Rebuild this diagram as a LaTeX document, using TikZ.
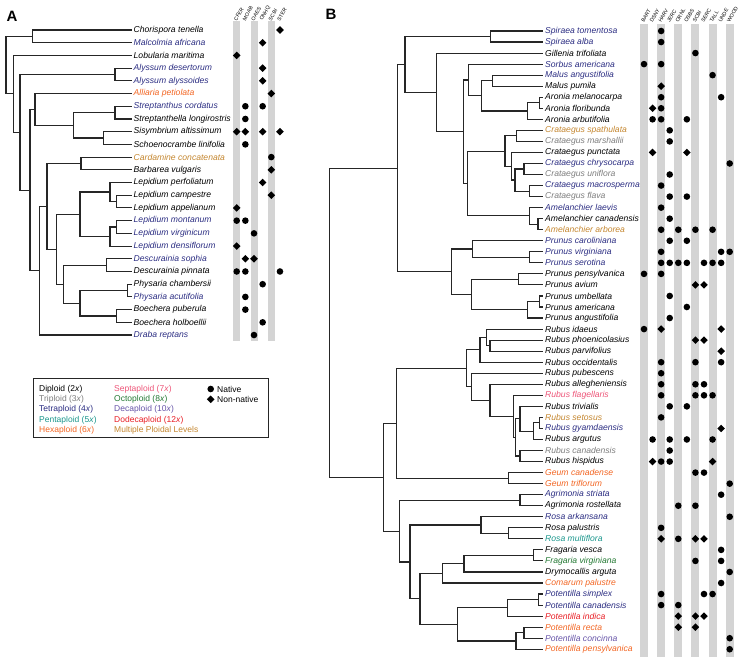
\documentclass[tikz,border=0pt]{standalone}
\usepackage{fontspec}
\setmainfont{Liberation Sans}
\usetikzlibrary{calc}
\definecolor{tri}{RGB}{125,125,125}
\definecolor{tet}{RGB}{43,45,130}
\definecolor{pen}{RGB}{26,150,140}
\definecolor{hex}{RGB}{242,101,34}
\definecolor{sep}{RGB}{237,85,120}
\definecolor{oct}{RGB}{34,120,50}
\definecolor{dec}{RGB}{102,84,168}
\definecolor{dod}{RGB}{232,30,37}
\definecolor{mul}{RGB}{196,134,47}
\definecolor{barcol}{RGB}{212,212,212}
\begin{document}
\begin{tikzpicture}[x=1pt,y=-1pt,
  br/.style={line width=1.1pt, draw=black!85, line cap=square},
  spA/.style={anchor=west, inner sep=0pt, inner xsep=2pt, font=\fontsize{8.6}{10}\selectfont\itshape},
  hd/.style={anchor=west, rotate=60, inner sep=0pt, font=\fontsize{5.2}{6}\selectfont},
  lg/.style={anchor=west, inner sep=0pt, font=\fontsize{8.5}{10}\selectfont},
  pl/.style={inner sep=0pt, font=\fontsize{15}{15}\selectfont\bfseries},
  mk/.style={fill=black}
  ]
\useasboundingbox (0,0) rectangle (743,660);

% ---------- Panel A ----------
\node[pl] (pA) at (12,16) {A};
\foreach \c in {1,3,5} \fill[barcol] ({236.7+(\c-1)*8.65-3.5},21.5) rectangle ++(7,319.5);
\foreach \c/\t in {1/CFER,2/MOAB,3/OAES,4/ONHQ,5/SCBI,6/STER}
  \node[hd] (hA\c) at ({236.7+(\c-1)*8.65-1.5},20.5) {\t};

\foreach \i/\n/\cl in {1/Chorispora tenella/black, 2/Malcolmia africana/tet, 3/Lobularia maritima/black,
  4/Alyssum desertorum/tet, 5/Alyssum alyssoides/tet, 6/Alliaria petiolata/hex,
  7/Streptanthus cordatus/tet, 8/Streptanthella longirostris/black, 9/Sisymbrium altissimum/black,
  10/Schoenocrambe linifolia/black, 11/Cardamine concatenata/mul, 12/Barbarea vulgaris/black,
  13/Lepidium perfoliatum/black, 14/Lepidium campestre/black, 15/Lepidium appelianum/black,
  16/Lepidium montanum/tet, 17/Lepidium virginicum/tet, 18/Lepidium densiflorum/tet,
  19/Descurainia sophia/tet, 20/Descurainia pinnata/black, 21/Physaria chambersii/black,
  22/Physaria acutifolia/tet, 23/Boechera puberula/black, 24/Boechera holboellii/black,
  25/Draba reptans/tet}
  \node[spA, text=\cl] (A\i) at (131.5,{30+(\i-1)*12.71}) {\n};

\coordinate (aR) at (6,65.1);
\coordinate (a12) at (32.3,36.36);
\coordinate (aN1) at (13.3,93.85);
\coordinate (aN2) at (20,132.28);
\coordinate (a45) at (115,74.49);
\coordinate (aN3) at (30,190.07);
\coordinate (a610) at (35,109.44);
\coordinate (a710) at (73.3,125.33);
\coordinate (a78) at (115,112.62);
\coordinate (a910) at (103.3,138.04);
\coordinate (aXD) at (39.3,270.7);
\coordinate (aX) at (47,206.36);
\coordinate (a1112) at (81,163.46);
\coordinate (aY) at (56.7,249.25);
\coordinate (aLep) at (80,214.3);
\coordinate (a1315) at (110,192.05);
\coordinate (a1415) at (116.7,201.59);
\coordinate (a1618) at (110,236.54);
\coordinate (a1617) at (116.7,227.0);
\coordinate (a1924) at (63.3,284.2);
\coordinate (a1920) at (106.7,265.14);
\coordinate (a2124) at (80,303.27);
\coordinate (a2122) at (127.7,290.56);
\coordinate (a2324) at (116.7,315.98);

\foreach \p/\c in {aR/a12, aR/aN1, a12/A1.west, a12/A2.west, aN1/A3.west, aN1/aN2,
  aN2/a45, aN2/aN3, a45/A4.west, a45/A5.west, aN3/a610, aN3/aXD, a610/A6.west, a610/a710,
  a710/a78, a710/a910, a78/A7.west, a78/A8.west, a910/A9.west, a910/A10.west,
  aXD/aX, aXD/A25.west, aX/a1112, aX/aY, a1112/A11.west, a1112/A12.west,
  aY/aLep, aY/a1924, aLep/a1315, aLep/a1618, a1315/A13.west, a1315/a1415,
  a1415/A14.west, a1415/A15.west, a1618/a1617, a1618/A18.west, a1617/A16.west, a1617/A17.west,
  a1924/a1920, a1924/a2124, a1920/A19.west, a1920/A20.west, a2124/a2122, a2124/a2324,
  a2122/A21.west, a2122/A22.west, a2324/A23.west, a2324/A24.west}
  \draw[br] (\p) |- (\c);

\foreach \r/\c in {7/2,7/4,8/2,10/2,11/5,16/1,16/2,17/3,20/1,20/2,20/6,21/4,22/2,23/2,24/4,25/3}
  \fill[mk] ({236.7+(\c-1)*8.65},{30+(\r-1)*12.71}) circle (3.3);
\foreach \r/\c in {1/6,2/4,3/1,4/4,5/4,6/5,9/1,9/2,9/4,9/6,12/5,13/4,14/5,15/1,18/1,19/2,19/3}
  \fill[mk] ({236.7+(\c-1)*8.65},{30+(\r-1)*12.71}) +(0,-3.8) -- +(3.8,0) -- +(0,3.8) -- +(-3.8,0) -- cycle;

% ---------- Legend ----------
\node[draw=black!85, line width=0.8pt, minimum width=235pt, minimum height=59pt, anchor=north west, inner sep=0pt] (legend) at (33,378) {};
\node[lg] (l1) at (39,389) {Diploid (2\textit{x})};
\node[lg, text=tri] (l2) at (39,399.3) {Triploid (3\textit{x})};
\node[lg, text=tet] (l3) at (39,409.6) {Tetraploid (4\textit{x})};
\node[lg, text=pen] (l4) at (39,419.9) {Pentaploid (5\textit{x})};
\node[lg, text=hex] (l5) at (39,430.2) {Hexaploid (6\textit{x})};
\node[lg, text=sep] (l6) at (114,389) {Septaploid (7\textit{x})};
\node[lg, text=oct] (l7) at (114,399.3) {Octoploid (8\textit{x})};
\node[lg, text=dec] (l8) at (114,409.6) {Decaploid (10\textit{x})};
\node[lg, text=dod] (l9) at (114,419.9) {Dodecaploid (12\textit{x})};
\node[lg, text=mul] (l10) at (114,430.2) {Multiple Ploidal Levels};
\fill[mk] (210.7,389) circle (3.3);
\fill[mk] (210.7,399.3) +(0,-3.8) -- +(3.8,0) -- +(0,3.8) -- +(-3.8,0) -- cycle;
\node[lg] (l11) at (217,389) {Native};
\node[lg] (l12) at (217,399.3) {Non-native};

% ---------- Panel B ----------
\node[pl] (pB) at (331,14) {B};
\foreach \c in {1,3,5,7,9,11} \fill[barcol] ({644+(\c-1)*8.57-4},24.5) rectangle ++(8,632.5);
\foreach \c/\t in {1/BART,2/DSNY,3/HARV,4/JERC,5/ORNL,6/OSBS,7/SCBI,8/SERC,9/TALL,10/UNDE,11/WOOD}
  \node[hd] (hB\c) at ({644+(\c-1)*8.57-1.5},22) {\t};

\foreach \i/\n/\cl in {1/Spiraea tomentosa/tet, 2/Spiraea alba/tet, 3/Gillenia trifoliata/black,
  4/Sorbus americana/tet, 5/Malus angustifolia/tet, 6/Malus pumila/black,
  7/Aronia melanocarpa/black, 8/Aronia floribunda/black, 9/Aronia arbutifolia/black,
  10/Crataegus spathulata/mul, 11/Crataegus marshallii/tri, 12/Crataegus punctata/black,
  13/Crataegus chrysocarpa/tet, 14/Crataegus uniflora/tri, 15/Crataegus macrosperma/tet,
  16/Crataegus flava/tri, 17/Amelanchier laevis/tet, 18/Amelanchier canadensis/black,
  19/Amelanchier arborea/mul, 20/Prunus caroliniana/tet, 21/Prunus virginiana/tet,
  22/Prunus serotina/tet, 23/Prunus pensylvanica/black, 24/Prunus avium/black,
  25/Prunus umbellata/black, 26/Prunus americana/black, 27/Prunus angustifolia/black,
  28/Rubus idaeus/black, 29/Rubus phoenicolasius/black, 30/Rubus parvifolius/black,
  31/Rubus occidentalis/black, 32/Rubus pubescens/black, 33/Rubus allegheniensis/black,
  34/Rubus flagellaris/sep, 35/Rubus trivialis/black, 36/Rubus setosus/mul,
  37/Rubus gyamdaensis/tet, 38/Rubus argutus/black, 39/Rubus canadensis/tri,
  40/Rubus hispidus/black, 41/Geum canadense/hex, 42/Geum triflorum/hex,
  43/Agrimonia striata/tet, 44/Agrimonia rostellata/black, 45/Rosa arkansana/tet,
  46/Rosa palustris/black, 47/Rosa multiflora/pen, 48/Fragaria vesca/black,
  49/Fragaria virginiana/oct, 50/Drymocallis arguta/black, 51/Comarum palustre/hex,
  52/Potentilla simplex/tet, 53/Potentilla canadensis/tet, 54/Potentilla indica/dod,
  55/Potentilla recta/hex, 56/Potentilla concinna/dec, 57/Potentilla pensylvanica/hex}
  \node[spA, text=\cl] (B\i) at (543,{31+(\i-1)*11.04}) {\n};

\coordinate (bR) at (329.3,322.64);
\coordinate (b127) at (397.3,168.14);
\coordinate (b119) at (405,64.47);
\coordinate (b12) at (490.7,36.52);
\coordinate (b319) at (436.7,92.41);
\coordinate (b419) at (463.3,131.74);
\coordinate (b49) at (468.3,79.99);
\coordinate (b59) at (481.7,95.86);
\coordinate (b56) at (492.7,80.68);
\coordinate (b789) at (527.3,111.04);
\coordinate (b78) at (539.5,102.76);
\coordinate (bCA) at (467.7,183.49);
\coordinate (b1016) at (505,151.06);
\coordinate (b1011) at (516.7,135.88);
\coordinate (b1216) at (511.7,166.24);
\coordinate (b1316) at (515,180.04);
\coordinate (b1314) at (524,169.0);
\coordinate (b1516) at (529.3,191.08);
\coordinate (b1719) at (529.3,215.92);
\coordinate (b1819) at (538,224.2);
\coordinate (bPr) at (451.7,271.81);
\coordinate (b2022) at (472.7,249.04);
\coordinate (b2122) at (529.3,257.32);
\coordinate (b2327) at (471.7,294.58);
\coordinate (b2324) at (518.3,279.4);
\coordinate (b2527) at (527.3,309.76);
\coordinate (b2526) at (539.5,301.48);
\coordinate (b2857) at (383.3,477.14);
\coordinate (bRG) at (396.7,423.2);
\coordinate (bRu) at (466.7,368.28);
\coordinate (b2831) at (480,349.78);
\coordinate (b2830) at (486.7,337.36);
\coordinate (b2930) at (490,345.64);
\coordinate (b3240) at (471.7,386.78);
\coordinate (b3340) at (490,400.32);
\coordinate (b3440) at (513.3,416.37);
\coordinate (b3540) at (515.5,437.41);
\coordinate (b3538) at (520,418.78);
\coordinate (b3638) at (533.3,431.2);
\coordinate (b3637) at (539.5,422.92);
\coordinate (b3940) at (520,456.04);
\coordinate (bGe) at (508.3,478.12);
\coordinate (b4357) at (399.3,531.08);
\coordinate (bAg) at (520,500.2);
\coordinate (b4557) at (410,561.96);
\coordinate (bRo) at (481,525.04);
\coordinate (b4647) at (508.3,533.32);
\coordinate (b4857) at (420,598.87);
\coordinate (b4851) at (442.3,573.34);
\coordinate (b4850) at (464,563.68);
\coordinate (b4849) at (533.3,555.4);
\coordinate (bPo) at (457.7,624.4);
\coordinate (b5254) at (507.3,607.84);
\coordinate (b5253) at (538.3,599.56);
\coordinate (b5557) at (516,640.96);
\coordinate (b5556) at (524,632.68);

\foreach \p/\c in {bR/b127, bR/b2857, b127/b119, b127/bPr, b119/b12, b119/b319,
  b12/B1.west, b12/B2.west, b319/B3.west, b319/b419, b419/b49, b419/bCA,
  b49/B4.west, b49/b59, b59/b56, b59/b789, b56/B5.west, b56/B6.west,
  b789/b78, b789/B9.west, b78/B7.west, b78/B8.west,
  bCA/b1016, bCA/b1719, b1016/b1011, b1016/b1216, b1011/B10.west, b1011/B11.west,
  b1216/B12.west, b1216/b1316, b1316/b1314, b1316/b1516, b1314/B13.west, b1314/B14.west,
  b1516/B15.west, b1516/B16.west, b1719/B17.west, b1719/b1819, b1819/B18.west, b1819/B19.west,
  bPr/b2022, bPr/b2327, b2022/B20.west, b2022/b2122, b2122/B21.west, b2122/B22.west,
  b2327/b2324, b2327/b2527, b2324/B23.west, b2324/B24.west, b2527/b2526, b2527/B27.west,
  b2526/B25.west, b2526/B26.west,
  b2857/bRG, b2857/b4357, bRG/bRu, bRG/bGe, bRu/b2831, bRu/b3240,
  b2831/b2830, b2831/B31.west, b2830/B28.west, b2830/b2930, b2930/B29.west, b2930/B30.west,
  b3240/B32.west, b3240/b3340, b3340/B33.west, b3340/b3440, b3440/B34.west, b3440/b3540,
  b3540/b3538, b3540/b3940, b3538/B35.west, b3538/b3638, b3638/b3637, b3638/B38.west,
  b3637/B36.west, b3637/B37.west, b3940/B39.west, b3940/B40.west,
  bGe/B41.west, bGe/B42.west,
  b4357/bAg, b4357/b4557, bAg/B43.west, bAg/B44.west, b4557/bRo, b4557/b4857,
  bRo/B45.west, bRo/b4647, b4647/B46.west, b4647/B47.west,
  b4857/b4851, b4857/bPo, b4851/b4850, b4851/B51.west, b4850/b4849, b4850/B50.west,
  b4849/B48.west, b4849/B49.west, bPo/b5254, bPo/b5557, b5254/b5253, b5254/B54.west,
  b5253/B52.west, b5253/B53.west, b5557/b5556, b5557/B57.west, b5556/B55.west, b5556/B56.west}
  \draw[br] (\p) |- (\c);

\foreach \r/\c in {1/3,2/3,3/7,4/1,4/3,5/9,7/3,7/10,8/3,9/2,9/3,9/6,10/4,11/4,13/11,14/4,15/3,
  16/4,16/6,17/3,18/4,19/3,19/5,19/7,19/9,20/4,20/6,21/3,21/10,21/11,22/3,22/4,22/5,22/6,22/8,
  22/9,22/10,23/1,23/3,25/4,26/6,27/4,28/1,31/3,31/7,31/10,32/3,33/3,33/7,33/8,34/3,34/7,34/8,
  34/9,35/4,35/6,36/3,38/2,38/4,38/6,38/9,39/4,40/3,40/4,41/7,41/8,42/11,43/10,44/5,44/7,45/11,
  46/3,47/5,48/10,49/7,49/10,50/11,51/10,52/3,52/8,52/9,53/3,53/5,56/11,57/11}
  \fill[mk] ({644+(\c-1)*8.57},{31+(\r-1)*11.04}) circle (3.3);
\foreach \r/\c in {6/3,8/2,12/2,12/6,24/7,24/8,28/3,28/10,29/7,29/8,30/10,37/10,40/2,40/9,
  47/3,47/7,47/8,54/5,54/7,54/8,55/5,55/7}
  \fill[mk] ({644+(\c-1)*8.57},{31+(\r-1)*11.04}) +(0,-3.8) -- +(3.8,0) -- +(0,3.8) -- +(-3.8,0) -- cycle;
\end{tikzpicture}
\end{document}
